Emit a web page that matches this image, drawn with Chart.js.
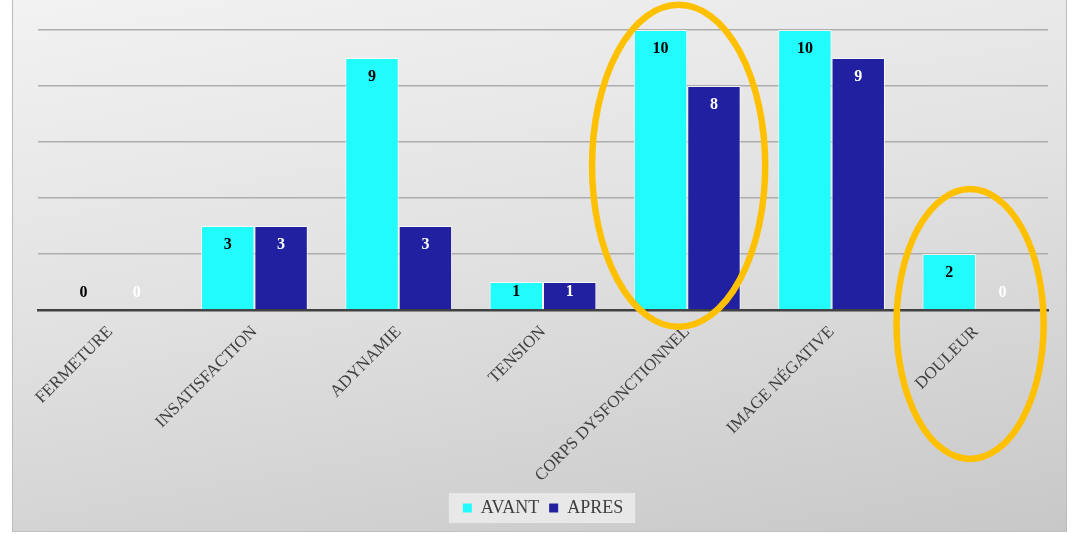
<!DOCTYPE html>
<html>
<head>
<meta charset="utf-8">
<script src="https://cdn.jsdelivr.net/npm/chart.js@4.4.1/dist/chart.umd.min.js"></script>
<style>
  html, body { margin: 0; padding: 0; background: #ffffff; }
  body { width: 1075px; height: 534px; position: relative; overflow: hidden; }
  #panel {
    position: absolute; left: 12px; top: 0; width: 1055px; height: 532px;
    background: linear-gradient(170deg, #f2f2f2 0%, #e2e2e2 45%, #c8c8c8 100%);
    border-left: 1px solid #bcbcbc; border-right: 1px solid #bcbcbc; border-bottom: 1px solid #c0c0c0;
    box-sizing: border-box;
  }
  #chart { position: absolute; left: 0; top: 0; }
</style>
</head>
<body>
<div id="panel"><canvas id="chart" width="1055" height="532"></canvas></div>
<script>
// Categories and the two survey series
const categories = ['FERMETURE', 'INSATISFACTION', 'ADYNAMIE', 'TENSION', 'CORPS DYSFONCTIONNEL', 'IMAGE NÉGATIVE', 'DOULEUR'];
const avant = [0, 3, 9, 1, 10, 10, 2];
const apres = [0, 3, 3, 1, 8, 9, 0];
const seriesNames = ['AVANT', 'APRES'];

// Highlight rings: centre given as category index / axis value, radii in category widths / axis units
const highlights = [
  { cat: 3.94, val: 5.15, rCat: 0.60, rVal: 5.75 },
  { cat: 5.96, val: -0.5, rCat: 0.51, rVal: 4.82 }
];

const serif = '"Liberation Serif", "Times New Roman", serif';

// Value labels placed inside the top of each bar
const valueLabels = {
  id: 'valueLabels',
  afterDatasetsDraw(chart) {
    const ctx = chart.ctx;
    ctx.save();
    ctx.font = 'bold 16px ' + serif;
    ctx.textAlign = 'center';
    ctx.textBaseline = 'middle';
    chart.data.datasets.forEach((ds, di) => {
      const meta = chart.getDatasetMeta(di);
      meta.data.forEach((bar, i) => {
        const y = Math.min(bar.y + 19, bar.base - 17);
        ctx.fillStyle = di === 0 ? '#000000' : '#ffffff';
        ctx.fillText(String(ds.data[i]), bar.x, y);
      });
    });
    ctx.restore();
  }
};

// Light box behind the legend entries
const legendBox = {
  id: 'legendBox',
  beforeDraw(chart) {
    const lg = chart.legend;
    if (!lg || !lg.legendHitBoxes || !lg.legendHitBoxes.length) return;
    const boxes = lg.legendHitBoxes;
    const left = Math.min(...boxes.map(b => b.left)) - 14;
    const right = Math.max(...boxes.map(b => b.left + b.width)) + 12;
    const top = Math.min(...boxes.map(b => b.top)) - 6;
    const bottom = Math.max(...boxes.map(b => b.top + b.height)) + 6;
    const ctx = chart.ctx;
    ctx.save();
    ctx.fillStyle = 'rgba(236,236,236,0.85)';
    ctx.fillRect(left, top, right - left, bottom - top);
    ctx.restore();
  }
};

// Orange rings drawn over the finished chart
const rings = {
  id: 'rings',
  afterDraw(chart) {
    const x = chart.scales.x, y = chart.scales.y;
    const catW = x.getPixelForValue(1) - x.getPixelForValue(0);
    const unit = Math.abs(y.getPixelForValue(1) - y.getPixelForValue(0));
    const ctx = chart.ctx;
    ctx.save();
    ctx.strokeStyle = '#FFC000';
    ctx.lineWidth = 6.5;
    highlights.forEach(h => {
      ctx.beginPath();
      ctx.ellipse(x.getPixelForValue(h.cat), y.getPixelForValue(h.val), h.rCat * catW, h.rVal * unit, 0, 0, Math.PI * 2);
      ctx.stroke();
    });
    ctx.restore();
  }
};

new Chart(document.getElementById('chart'), {
  type: 'bar',
  data: {
    labels: categories,
    datasets: [
      { label: seriesNames[0], data: avant, backgroundColor: '#22FBFB', borderColor: 'rgba(255,255,255,0.75)', borderWidth: 1 },
      { label: seriesNames[1], data: apres, backgroundColor: '#2020A0', borderColor: 'rgba(255,255,255,0.75)', borderWidth: 1 }
    ]
  },
  options: {
    responsive: false,
    animation: false,
    layout: { padding: { left: 25, right: 20, top: 30, bottom: 5 } },
    datasets: { bar: { categoryPercentage: 0.74, barPercentage: 1.0 } },
    scales: {
      x: {
        grid: { display: false, drawTicks: false },
        border: { display: true, color: '#404040', width: 2.5 },
        ticks: {
          color: '#404040',
          font: { family: serif, size: 17 },
          minRotation: 45, maxRotation: 45,
          padding: 12,
          autoSkip: false
        },
        afterFit(scale) { scale.height = 179; }
      },
      y: {
        min: 0, max: 10,
        ticks: { display: false, stepSize: 2 },
        grid: { color: '#adadad', lineWidth: 1.5, drawTicks: false },
        border: { display: false },
        afterFit(scale) { scale.width = 0; }
      }
    },
    plugins: {
      tooltip: { enabled: false },
      legend: {
        position: 'bottom',
        labels: {
          color: '#404040',
          font: { family: serif, size: 18 },
          boxWidth: 9, boxHeight: 9,
          padding: 10,
          generateLabels(chart) {
            return chart.data.datasets.map((ds, i) => ({
              text: ds.label, fillStyle: ds.backgroundColor, strokeStyle: ds.backgroundColor,
              lineWidth: 0, hidden: false, datasetIndex: i, fontColor: '#404040'
            }));
          }
        }
      }
    }
  },
  plugins: [legendBox, valueLabels, rings]
});
</script>
</body>
</html>
